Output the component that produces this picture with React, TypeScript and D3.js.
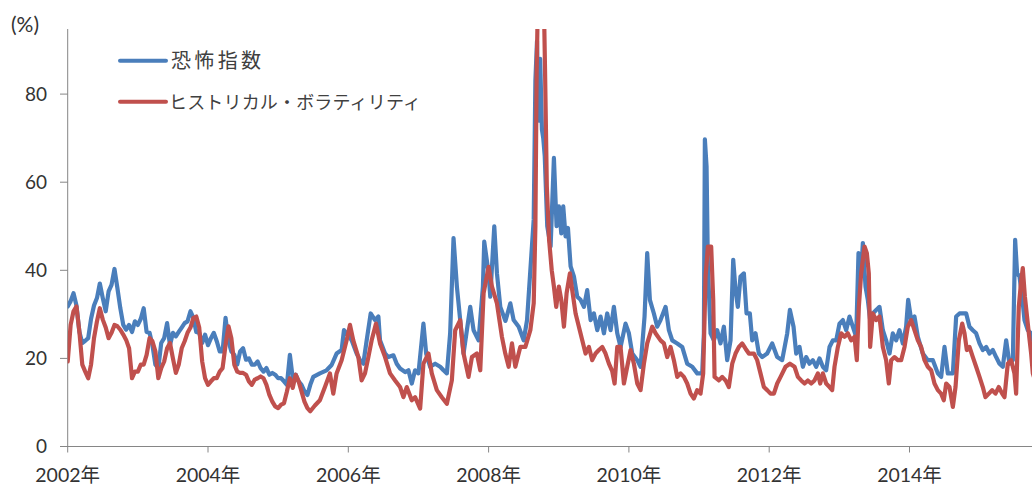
import React from 'react';
import * as d3 from 'd3';

const yTicks = [0, 20, 40, 60, 80];
const xTicks = [2002, 2004, 2006, 2008, 2010, 2012, 2014];
const xTickLabels = ['2002年', '2004年', '2006年', '2008年', '2010年', '2012年', '2014年'];
const seriesNames = ['恐怖指数', 'ヒストリカル・ボラティリティ'];
const unitLabel = '(%)';

// [decimal year, value %]
const fearIndex: [number, number][] = [
  [2002.000, 31.8], [2002.042, 33], [2002.083, 34.8], [2002.125, 32], [2002.167, 26], [2002.208, 23.5],
  [2002.250, 24], [2002.292, 24.6], [2002.333, 29], [2002.375, 32], [2002.417, 33.7], [2002.458, 37],
  [2002.500, 33.7], [2002.542, 30.7], [2002.583, 35.2], [2002.625, 36.7], [2002.667, 40.3], [2002.708, 36],
  [2002.750, 31.4], [2002.792, 27.6], [2002.833, 26.5], [2002.875, 27.6], [2002.917, 26], [2002.958, 28.4],
  [2003.000, 27.6], [2003.042, 29], [2003.083, 31.4], [2003.125, 26], [2003.167, 25.8], [2003.208, 23],
  [2003.250, 18.6], [2003.292, 17.8], [2003.333, 23.5], [2003.375, 24.6], [2003.417, 28], [2003.458, 23],
  [2003.500, 25.8], [2003.542, 25], [2003.583, 26], [2003.625, 27], [2003.667, 28], [2003.708, 28.4],
  [2003.750, 30.7], [2003.792, 29.2], [2003.833, 26], [2003.875, 25.8], [2003.917, 23.5], [2003.958, 25.4],
  [2004.000, 23], [2004.042, 24.6], [2004.083, 25.8], [2004.125, 23.9], [2004.167, 21.6], [2004.208, 21.6],
  [2004.250, 29.2], [2004.292, 23.9], [2004.333, 21.6], [2004.375, 20.8], [2004.417, 18.6], [2004.458, 21.6],
  [2004.500, 22.3], [2004.542, 19.7], [2004.583, 20], [2004.625, 18.6], [2004.667, 18.6], [2004.708, 19.3],
  [2004.750, 17.8], [2004.792, 17], [2004.833, 17.8], [2004.875, 16.3], [2004.917, 16.7], [2004.958, 16.3],
  [2005.000, 15.5], [2005.042, 15.5], [2005.083, 14.8], [2005.125, 14], [2005.167, 20.8], [2005.208, 15.5],
  [2005.250, 16.3], [2005.292, 14.8], [2005.333, 14], [2005.375, 12.5], [2005.417, 11.7], [2005.458, 14],
  [2005.500, 15.8], [2005.595, 16.6], [2005.690, 17.3], [2005.762, 18.5], [2005.833, 21.1], [2005.905, 21.9],
  [2005.938, 26.4], [2006.000, 25.3], [2006.048, 24.1], [2006.119, 21.1], [2006.167, 19.6], [2006.214, 18.8],
  [2006.262, 24.1], [2006.319, 30.2], [2006.381, 28.7], [2006.429, 29.5], [2006.452, 24.1], [2006.524, 21.1],
  [2006.571, 20.3], [2006.643, 20.7], [2006.690, 18.8], [2006.738, 17.7], [2006.810, 16.9], [2006.857, 17.3],
  [2006.905, 14.3], [2006.952, 17.3], [2007.000, 16.6], [2007.071, 27.9], [2007.110, 21.1], [2007.167, 18.1],
  [2007.238, 18.8], [2007.310, 18.1], [2007.357, 17.3], [2007.405, 16.6], [2007.452, 25.7], [2007.500, 47.3],
  [2007.548, 36.3], [2007.595, 28.7], [2007.643, 21.1], [2007.738, 31.7], [2007.786, 26.4], [2007.857, 24.1],
  [2007.919, 36.3], [2007.938, 46.5], [2008.000, 39.3], [2008.024, 34], [2008.081, 50], [2008.119, 39.3],
  [2008.167, 31.7], [2008.240, 28.5], [2008.310, 32.5], [2008.357, 28.7], [2008.429, 27.2], [2008.500, 24.1],
  [2008.548, 28.7], [2008.595, 40], [2008.643, 51.5], [2008.667, 83], [2008.690, 92], [2008.714, 74],
  [2008.735, 88], [2008.760, 72], [2008.779, 70], [2008.800, 66], [2008.836, 50], [2008.884, 45.4],
  [2008.931, 65.5], [2008.969, 50], [2009.002, 54.5], [2009.036, 48.4], [2009.064, 54.5], [2009.097, 47.7],
  [2009.131, 49.6], [2009.169, 40.9], [2009.216, 38.6], [2009.264, 34], [2009.311, 33.3], [2009.359, 31.7],
  [2009.406, 35.5], [2009.454, 28.7], [2009.501, 30.2], [2009.549, 26.4], [2009.596, 29.5], [2009.644, 25.7],
  [2009.691, 30.2], [2009.739, 26.4], [2009.786, 31.7], [2009.834, 25.7], [2009.881, 22.6], [2009.952, 27.9],
  [2010.000, 25.7], [2010.048, 21.1], [2010.119, 19.6], [2010.166, 18.1], [2010.223, 29.5], [2010.261, 43.9],
  [2010.299, 33.3], [2010.356, 30.2], [2010.404, 27.2], [2010.451, 28.7], [2010.523, 31.7], [2010.570, 26.4],
  [2010.618, 24.1], [2010.689, 23.4], [2010.760, 22.6], [2010.831, 18.8], [2010.903, 18.1], [2010.974, 16.6],
  [2011.045, 16.6], [2011.069, 25.7], [2011.083, 69.7], [2011.107, 63.6], [2011.126, 40.9], [2011.164, 25.7],
  [2011.211, 24.1], [2011.259, 26.4], [2011.306, 23.4], [2011.354, 27.2], [2011.401, 19.6], [2011.449, 24.1],
  [2011.487, 42.4], [2011.520, 35.5], [2011.553, 31.7], [2011.591, 38.6], [2011.639, 39.3], [2011.677, 30.2],
  [2011.724, 30.2], [2011.758, 24.1], [2011.805, 25.7], [2011.853, 21.1], [2011.900, 20.3], [2011.971, 21.1],
  [2012.043, 23.4], [2012.114, 20.3], [2012.185, 19.6], [2012.257, 25.7], [2012.295, 31], [2012.347, 27.2],
  [2012.385, 21.1], [2012.432, 22.6], [2012.480, 18.1], [2012.527, 20.3], [2012.575, 18.8], [2012.622, 19.6],
  [2012.670, 18.1], [2012.717, 20], [2012.765, 18.1], [2012.812, 17.3], [2012.860, 22.6], [2012.907, 24.1],
  [2012.955, 24.1], [2013.002, 27.9], [2013.050, 28.7], [2013.097, 26.4], [2013.145, 29.5], [2013.192, 27.2],
  [2013.240, 24.9], [2013.273, 43.9], [2013.311, 39.3], [2013.335, 46.2], [2013.373, 36.3], [2013.406, 33.3],
  [2013.439, 28.7], [2013.477, 30.2], [2013.525, 31], [2013.572, 31.7], [2013.620, 26.4], [2013.667, 24.1],
  [2013.715, 21.1], [2013.762, 25.7], [2013.810, 24.1], [2013.857, 26.4], [2013.905, 23.4], [2013.952, 27.2],
  [2013.981, 33.3], [2014.024, 28.7], [2014.071, 29.5], [2014.119, 24.9], [2014.190, 21.1], [2014.261, 19.6],
  [2014.333, 19.6], [2014.404, 16.6], [2014.451, 15.8], [2014.499, 22.6], [2014.546, 16.6], [2014.618, 16.6],
  [2014.665, 29.5], [2014.713, 30.2], [2014.760, 30.2], [2014.808, 30.2], [2014.855, 27.2], [2014.903, 26.4],
  [2014.950, 25.7], [2014.998, 23.4], [2015.045, 21.9], [2015.093, 22.6], [2015.140, 21.1], [2015.188, 21.9],
  [2015.235, 20.3], [2015.283, 18.8], [2015.330, 18.1], [2015.378, 24.1], [2015.425, 18.8], [2015.473, 19.6],
  [2015.506, 46.9], [2015.534, 39.3], [2015.568, 38.6], [2015.606, 34], [2015.639, 28.7], [2015.686, 26.4],
  [2015.734, 25.7], [2015.758, 24.1], [2015.790, 26],
];

const historicalVol: [number, number][] = [
  [2002.000, 19.3], [2002.042, 27.6], [2002.083, 30.7], [2002.125, 31.8], [2002.167, 26], [2002.208, 18.6],
  [2002.250, 17], [2002.292, 15.5], [2002.333, 18.6], [2002.375, 24.6], [2002.417, 28.4], [2002.458, 31.4],
  [2002.500, 28.8], [2002.542, 27], [2002.583, 24.6], [2002.625, 25.8], [2002.667, 27.6], [2002.708, 27.3],
  [2002.750, 26.5], [2002.792, 25.4], [2002.833, 24.2], [2002.875, 22.3], [2002.917, 15.5], [2002.958, 17],
  [2003.000, 17], [2003.042, 18.6], [2003.083, 18.6], [2003.125, 20.8], [2003.167, 24.6], [2003.208, 23.9],
  [2003.250, 21.6], [2003.292, 15.5], [2003.333, 17.8], [2003.375, 19.3], [2003.417, 22.3], [2003.458, 23.5],
  [2003.500, 20], [2003.542, 16.7], [2003.583, 18.6], [2003.625, 22.3], [2003.667, 23.9], [2003.708, 25.8],
  [2003.750, 27], [2003.792, 29.2], [2003.833, 29.5], [2003.875, 27], [2003.917, 19.3], [2003.958, 15.5],
  [2004.000, 14], [2004.042, 14.8], [2004.083, 15.5], [2004.125, 15.5], [2004.167, 17], [2004.208, 17.8],
  [2004.250, 23], [2004.292, 27.3], [2004.333, 24.6], [2004.375, 18.6], [2004.417, 17], [2004.458, 16.7],
  [2004.500, 16.7], [2004.542, 16.3], [2004.583, 14.8], [2004.625, 14], [2004.667, 15.2], [2004.708, 15.5],
  [2004.750, 15.9], [2004.792, 15.5], [2004.833, 14], [2004.875, 11.7], [2004.917, 10.2], [2004.958, 9.1],
  [2005.000, 8.7], [2005.042, 9.5], [2005.083, 9.8], [2005.125, 12.5], [2005.167, 15.5], [2005.208, 13.3],
  [2005.250, 16.3], [2005.292, 14.8], [2005.333, 12.5], [2005.375, 10.2], [2005.417, 8.7], [2005.458, 8],
  [2005.524, 9.3], [2005.595, 10.5], [2005.667, 13.5], [2005.738, 16.6], [2005.786, 12], [2005.833, 16.6],
  [2005.905, 19.6], [2005.976, 24.1], [2006.024, 27.6], [2006.071, 24.1], [2006.143, 20.3], [2006.190, 15],
  [2006.238, 16.6], [2006.286, 20.3], [2006.333, 24.1], [2006.395, 27.9], [2006.452, 23.4], [2006.524, 20.3],
  [2006.595, 16.6], [2006.667, 15], [2006.738, 13.5], [2006.786, 11.2], [2006.833, 13.5], [2006.905, 10.5],
  [2006.952, 11.2], [2007.024, 8.6], [2007.071, 18.8], [2007.143, 21.1], [2007.190, 16.6], [2007.262, 12.8],
  [2007.333, 11.2], [2007.405, 9.7], [2007.476, 15], [2007.524, 26.4], [2007.595, 28.7], [2007.643, 21.1],
  [2007.714, 15.8], [2007.762, 20.3], [2007.833, 21.1], [2007.881, 17.3], [2007.929, 34.8], [2008.000, 40.8],
  [2008.048, 36.3], [2008.119, 32.5], [2008.190, 24.9], [2008.238, 21.1], [2008.286, 18.1], [2008.333, 23.4],
  [2008.381, 18.1], [2008.452, 22.6], [2008.524, 22.6], [2008.595, 26.4], [2008.643, 32.5], [2008.667, 50],
  [2008.685, 85], [2008.700, 99], [2008.790, 99], [2008.805, 85], [2008.830, 59], [2008.862, 47],
  [2008.900, 40], [2008.931, 36.3], [2008.964, 31.7], [2009.002, 36.3], [2009.036, 33.3], [2009.074, 27.2],
  [2009.112, 34.8], [2009.159, 39.3], [2009.192, 35.5], [2009.240, 30.2], [2009.287, 27.2], [2009.335, 24.1],
  [2009.382, 21.1], [2009.430, 22.6], [2009.477, 19.6], [2009.525, 21.1], [2009.572, 21.9], [2009.620, 22.6],
  [2009.667, 21.1], [2009.715, 18.8], [2009.762, 17.1], [2009.796, 14.3], [2009.834, 22.6], [2009.881, 22.6],
  [2009.929, 14.3], [2009.976, 18.1], [2010.024, 21.9], [2010.071, 18.8], [2010.119, 14.3], [2010.166, 12.8],
  [2010.214, 18.8], [2010.261, 23.4], [2010.333, 27.2], [2010.380, 25.7], [2010.451, 24.1], [2010.499, 23.4],
  [2010.546, 20.3], [2010.594, 22.6], [2010.641, 19.6], [2010.689, 15.8], [2010.736, 16.6], [2010.784, 15.8],
  [2010.831, 14.3], [2010.879, 12], [2010.926, 10.9], [2010.974, 12.8], [2011.021, 12], [2011.059, 16.6],
  [2011.093, 38.6], [2011.126, 45.4], [2011.173, 45.4], [2011.202, 33.3], [2011.221, 15.8], [2011.283, 15],
  [2011.330, 15.8], [2011.378, 15], [2011.425, 13.5], [2011.473, 18.8], [2011.520, 21.1], [2011.568, 22.6],
  [2011.615, 23.4], [2011.663, 22.2], [2011.710, 21.1], [2011.781, 21.1], [2011.829, 19.6], [2011.876, 16.6],
  [2011.924, 13.5], [2011.971, 12.8], [2012.019, 12], [2012.067, 12], [2012.114, 14.3], [2012.162, 15.8],
  [2012.233, 18.1], [2012.295, 18.8], [2012.361, 18.1], [2012.409, 15.8], [2012.456, 15], [2012.504, 14.3],
  [2012.551, 15], [2012.599, 14.3], [2012.646, 15], [2012.694, 16.6], [2012.727, 14.3], [2012.765, 16.6],
  [2012.812, 14.3], [2012.860, 13.5], [2012.898, 12.8], [2012.931, 18.1], [2012.979, 22.6], [2013.026, 25.7],
  [2013.074, 24.9], [2013.121, 25.7], [2013.169, 24.1], [2013.216, 24.9], [2013.249, 19.6], [2013.278, 31.7],
  [2013.311, 39.3], [2013.359, 45.4], [2013.392, 43.9], [2013.420, 39.3], [2013.439, 22.6], [2013.477, 30.2],
  [2013.525, 28.7], [2013.572, 29.5], [2013.620, 22.6], [2013.667, 19.6], [2013.705, 14.3], [2013.739, 19.6],
  [2013.786, 20.3], [2013.834, 19.6], [2013.881, 19.6], [2013.929, 22.6], [2013.976, 27.2], [2014.024, 28.7],
  [2014.071, 26.4], [2014.119, 24.1], [2014.166, 22.6], [2014.214, 19.6], [2014.261, 18.1], [2014.309, 17.3],
  [2014.356, 14.3], [2014.404, 12.8], [2014.451, 12], [2014.489, 10.5], [2014.523, 14.3], [2014.570, 13.5],
  [2014.618, 9], [2014.656, 13.5], [2014.703, 24.1], [2014.751, 27.9], [2014.784, 25.7], [2014.817, 21.9],
  [2014.855, 22.6], [2014.903, 20.3], [2014.950, 18.1], [2014.998, 15.8], [2015.045, 13.5], [2015.083, 11.2],
  [2015.131, 12], [2015.178, 12.8], [2015.226, 12], [2015.273, 13.5], [2015.321, 12], [2015.354, 11.2],
  [2015.401, 18.8], [2015.449, 19.6], [2015.496, 16.6], [2015.520, 12], [2015.558, 31.7], [2015.591, 37.5],
  [2015.615, 40.5], [2015.645, 34], [2015.701, 25.7], [2015.734, 21.1], [2015.758, 16.6], [2015.790, 15],
];

const BLUE = '#4A7EBB';
const RED = '#C0504D';
const AXIS = '#868686';
const TEXT = '#333333';
const FONT = "Lato, 'Noto Sans CJK JP', sans-serif";
const JFONT = "'Noto Sans CJK JP', sans-serif";

export default function App() {
  const W = 1032;
  const H = 485;
  const left = 67.7;
  const bottom = 446.5;
  const plotTop = 29;

  const x = d3.scaleLinear().domain([2002, 2016]).range([left, left + 70.15 * 14]);
  const y = d3.scaleLinear().domain([0, 100]).range([bottom, bottom - 440.5]);

  const line = d3
    .line<[number, number]>()
    .x((d) => x(d[0]))
    .y((d) => y(d[1]));

  return (
    <div style={{ position: 'fixed', left: 0, top: 0, width: W, height: H, background: '#fff' }}>
      <svg width={W} height={H} style={{ display: 'block' }}>
        <defs>
          <clipPath id="plot">
            <rect x={left} y={plotTop} width={W - left} height={bottom - plotTop} />
          </clipPath>
        </defs>

        {/* axes */}
        <line x1={left} y1={plotTop} x2={left} y2={bottom} stroke={AXIS} strokeWidth={1} />
        <line x1={60} y1={bottom} x2={W} y2={bottom} stroke={AXIS} strokeWidth={1} />
        {yTicks.map((t) => (
          <g key={`y${t}`}>
            <line x1={60} x2={left} y1={y(t)} y2={y(t)} stroke={AXIS} strokeWidth={1} />
            <text x={47} y={y(t)} dy="0.36em" textAnchor="end" fontFamily={FONT} fontSize={19} fill={TEXT}>
              {t}
            </text>
          </g>
        ))}
        {xTicks.map((t, i) => (
          <g key={`x${t}`}>
            <line x1={x(t)} x2={x(t)} y1={bottom} y2={bottom + 6} stroke={AXIS} strokeWidth={1} />
            <text x={x(t)} y={482} textAnchor="middle" fontFamily={FONT} fontSize={19.5} fill={TEXT}>
              {xTickLabels[i]}
            </text>
          </g>
        ))}
        <text x={11} y={32} fontFamily={FONT} fontSize={21} fill={TEXT}>
          {unitLabel}
        </text>

        {/* series */}
        <g clipPath="url(#plot)">
          <path d={line(fearIndex) ?? ''} fill="none" stroke={BLUE} strokeWidth={4.2} strokeLinejoin="round" strokeLinecap="round" />
          <path d={line(historicalVol) ?? ''} fill="none" stroke={RED} strokeWidth={4.2} strokeLinejoin="round" strokeLinecap="round" />
        </g>

        {/* legend */}
        <line x1={120} x2={166} y1={60.7} y2={60.7} stroke={BLUE} strokeWidth={4} strokeLinecap="round" />
        <text x={171} y={68} fontFamily={JFONT} fontSize={20} fill="#404040" textLength={90}>
          {seriesNames[0]}
        </text>
        <line x1={120} x2={166} y1={101.7} y2={101.7} stroke={RED} strokeWidth={4} strokeLinecap="round" />
        <text x={169} y={109} fontFamily={JFONT} fontSize={18} fill="#404040" textLength={252}>
          {seriesNames[1]}
        </text>
      </svg>
    </div>
  );
}
